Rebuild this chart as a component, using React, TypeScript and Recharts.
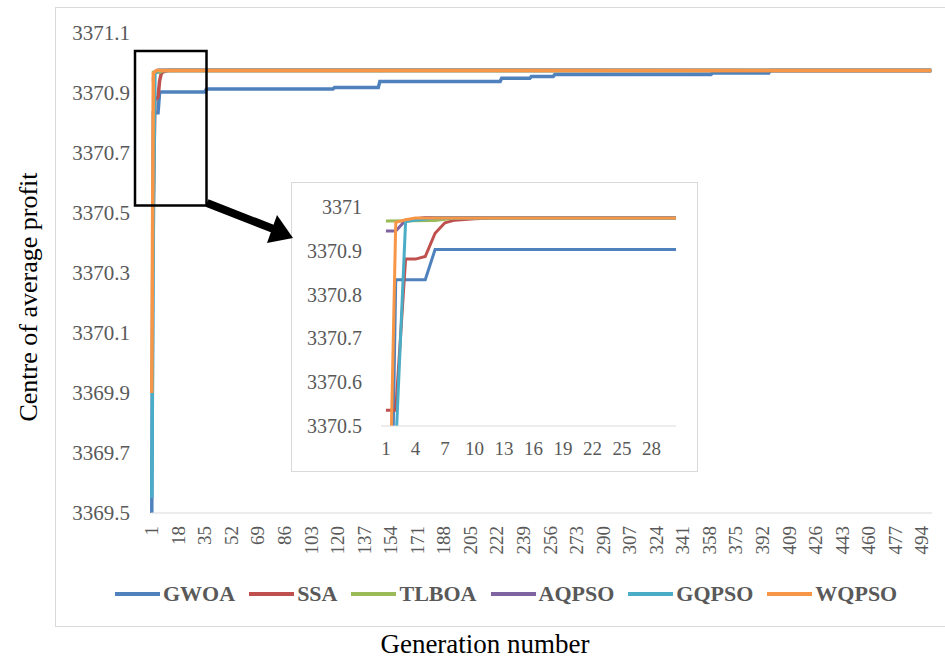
import React from 'react'
import { LineChart, Line, XAxis, YAxis } from 'recharts'

// [generation, centre of average profit]
const gwoa = [
  [1, 3369.5], [2, 3370.834], [5, 3370.834], [6, 3370.903], [35, 3370.903],
  [36, 3370.913], [117, 3370.913], [118, 3370.918], [146, 3370.918],
  [147, 3370.938], [224, 3370.938], [225, 3370.949], [243, 3370.949],
  [244, 3370.955], [258, 3370.955], [259, 3370.962], [359, 3370.962],
  [360, 3370.967], [396, 3370.967], [397, 3370.975], [500, 3370.975],
]
const ssa = [
  [1, 3370.536], [2, 3370.536], [3, 3370.881], [4, 3370.881], [5, 3370.887],
  [6, 3370.94], [7, 3370.964], [8, 3370.97], [10, 3370.973], [12, 3370.975],
  [500, 3370.975],
]
const tlboa = [[1, 3370.968], [6, 3370.969], [8, 3370.975], [500, 3370.975]]
const aqpso = [[1, 3370.945], [2, 3370.945], [3, 3370.97], [5, 3370.976], [500, 3370.975]]
const gqpso = [[1, 3369.55], [2, 3370.45], [3, 3370.966], [4, 3370.97], [6, 3370.975], [500, 3370.975]]
const wqpso = [[1, 3369.9], [2, 3370.965], [3, 3370.971], [4, 3370.975], [500, 3370.975]]

const seriesNames = ['GWOA', 'SSA', 'TLBOA', 'AQPSO', 'GQPSO', 'WQPSO']
const seriesData = [gwoa, ssa, tlboa, aqpso, gqpso, wqpso]
const colors = ['#4F81BD', '#C0504D', '#9BBB59', '#8064A2', '#4BACC6', '#F79646']

const mainXTicks = [1, 18, 35, 52, 69, 86, 103, 120, 137, 154, 171, 188, 205, 222, 239, 256, 273, 290, 307, 324, 341, 358, 375, 392, 409, 426, 443, 460, 477, 494]
const mainYTicks = [3369.5, 3369.7, 3369.9, 3370.1, 3370.3, 3370.5, 3370.7, 3370.9, 3371.1]
const insetXTicks = [1, 4, 7, 10, 13, 16, 19, 22, 25, 28]
const insetYTicks = [3370.5, 3370.6, 3370.7, 3370.8, 3370.9, 3371]

const serif = '"Liberation Serif", "Times New Roman", serif'
const fmt = (v: number) => String(+v.toFixed(1))

// rotated category labels, reading bottom-to-top like the Excel original
const RotTick = (props: any) => {
  const { x, y, payload } = props
  return (
    <text x={x} y={y} transform={`rotate(-90 ${x} ${y})`} textAnchor="end" dominantBaseline="central"
      fontSize={19} fill="#595959" fontFamily={serif}>
      {payload.value}
    </text>
  )
}

const FlatTick = (size: number, anchor: 'middle' | 'end') => (props: any) => {
  const { x, y, payload } = props
  return (
    <text x={x} y={y} textAnchor={anchor} dominantBaseline={anchor === 'end' ? 'central' : 'hanging'}
      fontSize={size} fill="#595959" fontFamily={serif}>
      {fmt(payload.value)}
    </text>
  )
}

const lines = (width: number) =>
  seriesNames.map((name, i) => (
    <Line
      key={name}
      name={name}
      data={seriesData[i].map(([gen, v]) => ({ gen, v }))}
      dataKey="v"
      stroke={colors[i]}
      strokeWidth={width}
      dot={false}
      type="linear"
      isAnimationActive={false}
    />
  ))

export default function App() {
  return (
    <div style={{ position: 'absolute', left: 0, top: 0, width: 945, height: 663, background: '#fff', overflow: 'hidden' }}>
      <div style={{ position: 'absolute', left: 55, top: 7, width: 1000, height: 618, border: '1px solid #d9d9d9' }} />

      <div style={{ position: 'absolute', left: 0, top: 0 }}>
        <LineChart width={945} height={663} margin={{ top: 33, right: 13, bottom: 0, left: 0 }}>
          <XAxis
            dataKey="gen"
            type="number"
            domain={[0.5, 500.5]}
            ticks={mainXTicks}
            interval={0}
            height={150}
            allowDuplicatedCategory={false}
            tickLine={false}
            tickMargin={7}
            axisLine={{ stroke: '#d9d9d9' }}
            tick={<RotTick />}
          />
          <YAxis
            type="number"
            domain={[3369.5, 3371.1]}
            ticks={mainYTicks}
            width={151}
            allowDataOverflow
            axisLine={false}
            tickLine={false}
            tickMargin={15}
            tick={FlatTick(21, 'end')}
          />
          {lines(3.5)}
        </LineChart>
      </div>

      <div style={{ position: 'absolute', left: 115, top: 582, height: 24, display: 'flex', alignItems: 'center', fontFamily: serif }}>
        {seriesNames.map((name, i) => (
          <div key={name} style={{ display: 'flex', alignItems: 'center', marginRight: 14 }}>
            <span style={{ display: 'inline-block', width: 45, height: 4, background: colors[i], marginRight: 3 }} />
            <span style={{ fontSize: 22, fontWeight: 'bold', color: '#595959' }}>{name}</span>
          </div>
        ))}
      </div>

      <div style={{ position: 'absolute', left: 291, top: 182, width: 405, height: 288, border: '1px solid #d9d9d9', background: '#fff' }}>
        <LineChart width={405} height={288} margin={{ top: 24, right: 21, bottom: 0, left: 0 }}>
          <XAxis
            dataKey="gen"
            type="number"
            domain={[0.5, 30.5]}
            ticks={insetXTicks}
            interval={0}
            height={45}
            allowDataOverflow
            allowDuplicatedCategory={false}
            tickLine={false}
            tickMargin={9}
            axisLine={{ stroke: '#d9d9d9' }}
            tick={FlatTick(19, 'middle')}
          />
          <YAxis
            type="number"
            domain={[3370.5, 3371]}
            ticks={insetYTicks}
            width={89}
            allowDataOverflow
            axisLine={false}
            tickLine={false}
            tickMargin={13}
            tick={FlatTick(20, 'end')}
          />
          {lines(3)}
        </LineChart>
      </div>

      <svg width={945} height={663} style={{ position: 'absolute', left: 0, top: 0, pointerEvents: 'none' }}>
        <rect x={135} y={51} width={71.5} height={154.5} fill="none" stroke="#000" strokeWidth={2.5} />
        <line x1={207} y1={203} x2={276} y2={230} stroke="#000" strokeWidth={8} />
        <polygon points="293,238 277,215 267,243" fill="#000" />
        <text x={37} y={297} transform="rotate(-90 37 297)" textAnchor="middle" fontSize={26} fontFamily={serif} fill="#000">
          Centre of average profit
        </text>
        <text x={485} y={653} textAnchor="middle" fontSize={27} fontFamily={serif} fill="#000">
          Generation number
        </text>
      </svg>
    </div>
  )
}
